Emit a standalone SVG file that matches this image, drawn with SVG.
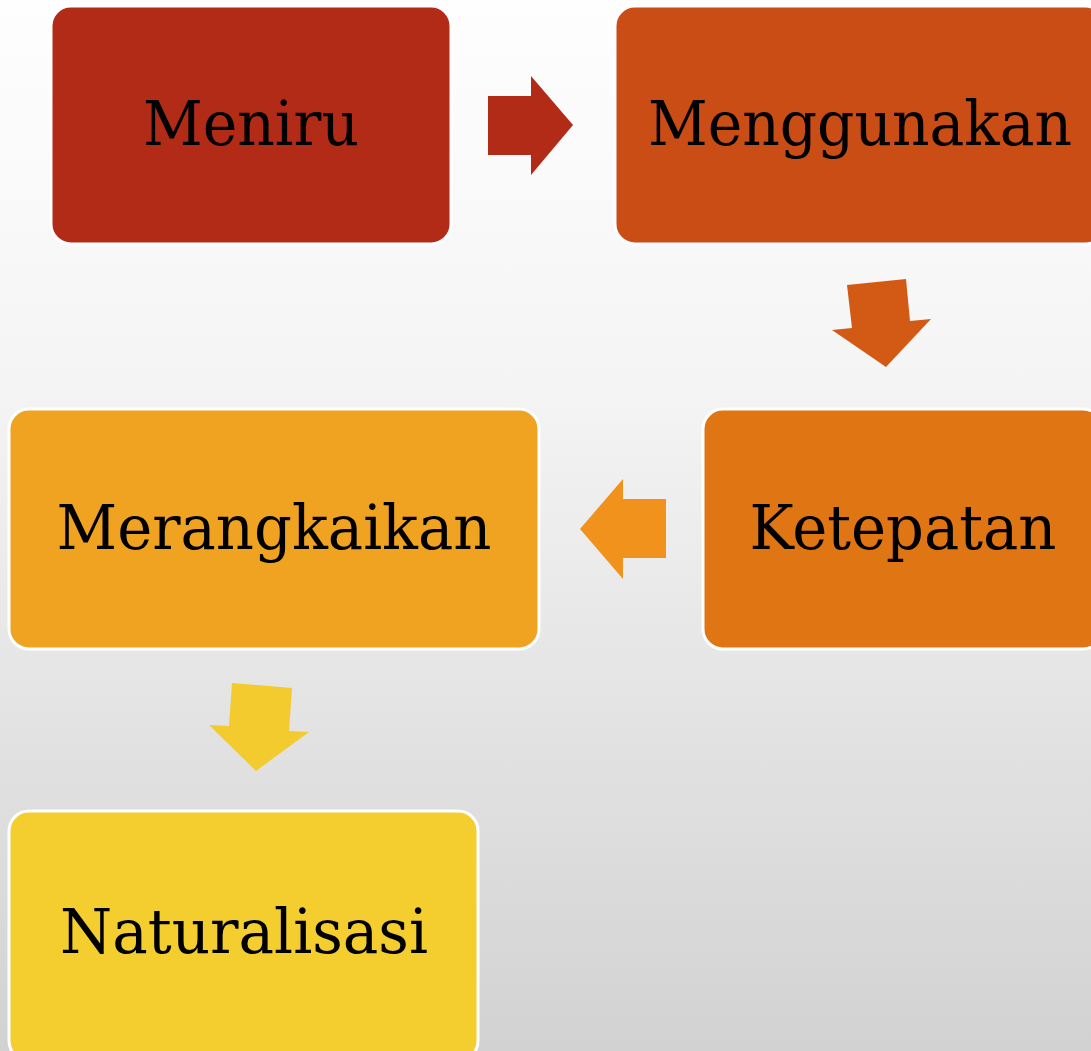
<svg xmlns="http://www.w3.org/2000/svg" width="1091" height="1051" viewBox="0 0 1091 1051">
<defs>
<linearGradient id="bg" x1="0" y1="0" x2="0" y2="1">
<stop offset="0" stop-color="#fefefe"/>
<stop offset="0.35" stop-color="#f5f5f5"/>
<stop offset="1" stop-color="#d2d2d2"/>
</linearGradient>
<style>
.box{stroke:#ffffff;stroke-width:3}
.lbl{font-family:"DejaVu Serif","Liberation Serif",serif;font-size:62px;fill:#000000;text-anchor:middle}
</style>
</defs>
<rect x="0" y="0" width="1091" height="1051" fill="url(#bg)"/>
<g id="connectors">
<polygon points="488,96 531,96 531,76 573,125 531,175 531,155 488,155" fill="#B22B17"/>
<polygon points="847,285 906,279 910,321 931,319 886,367 832,330 852,328" fill="#D35A14"/>
<polygon points="666,499 623,499 623,479 580,529 623,579 623,558 666,558" fill="#F0921C"/>
<polygon points="232,683 292,688 289,731 309,732 256,771 209,725 229,726" fill="#F4CB2E"/>
</g>
<g id="node-meniru">
<rect class="box" x="51" y="6" width="400" height="238" rx="20" fill="#B22B17"/>
<text class="lbl" x="251" y="145" textLength="216" lengthAdjust="spacingAndGlyphs">Meniru</text>
</g>
<g id="node-menggunakan">
<rect class="box" x="615" y="6" width="490" height="238" rx="20" fill="#C94D15"/>
<text class="lbl" x="860" y="145" textLength="424" lengthAdjust="spacingAndGlyphs">Menggunakan</text>
</g>
<g id="node-ketepatan">
<rect class="box" x="703" y="409" width="400" height="240" rx="20" fill="#E07514"/>
<text class="lbl" x="903" y="549" textLength="307" lengthAdjust="spacingAndGlyphs">Ketepatan</text>
</g>
<g id="node-merangkaikan">
<rect class="box" x="9" y="409" width="530" height="240" rx="20" fill="#F0A320"/>
<text class="lbl" x="274" y="549" textLength="435" lengthAdjust="spacingAndGlyphs">Merangkaikan</text>
</g>
<g id="node-naturalisasi">
<rect class="box" x="9" y="811" width="469" height="250" rx="20" fill="#F4CD2E"/>
<text class="lbl" x="244" y="953" textLength="368" lengthAdjust="spacingAndGlyphs">Naturalisasi</text>
</g>
</svg>
